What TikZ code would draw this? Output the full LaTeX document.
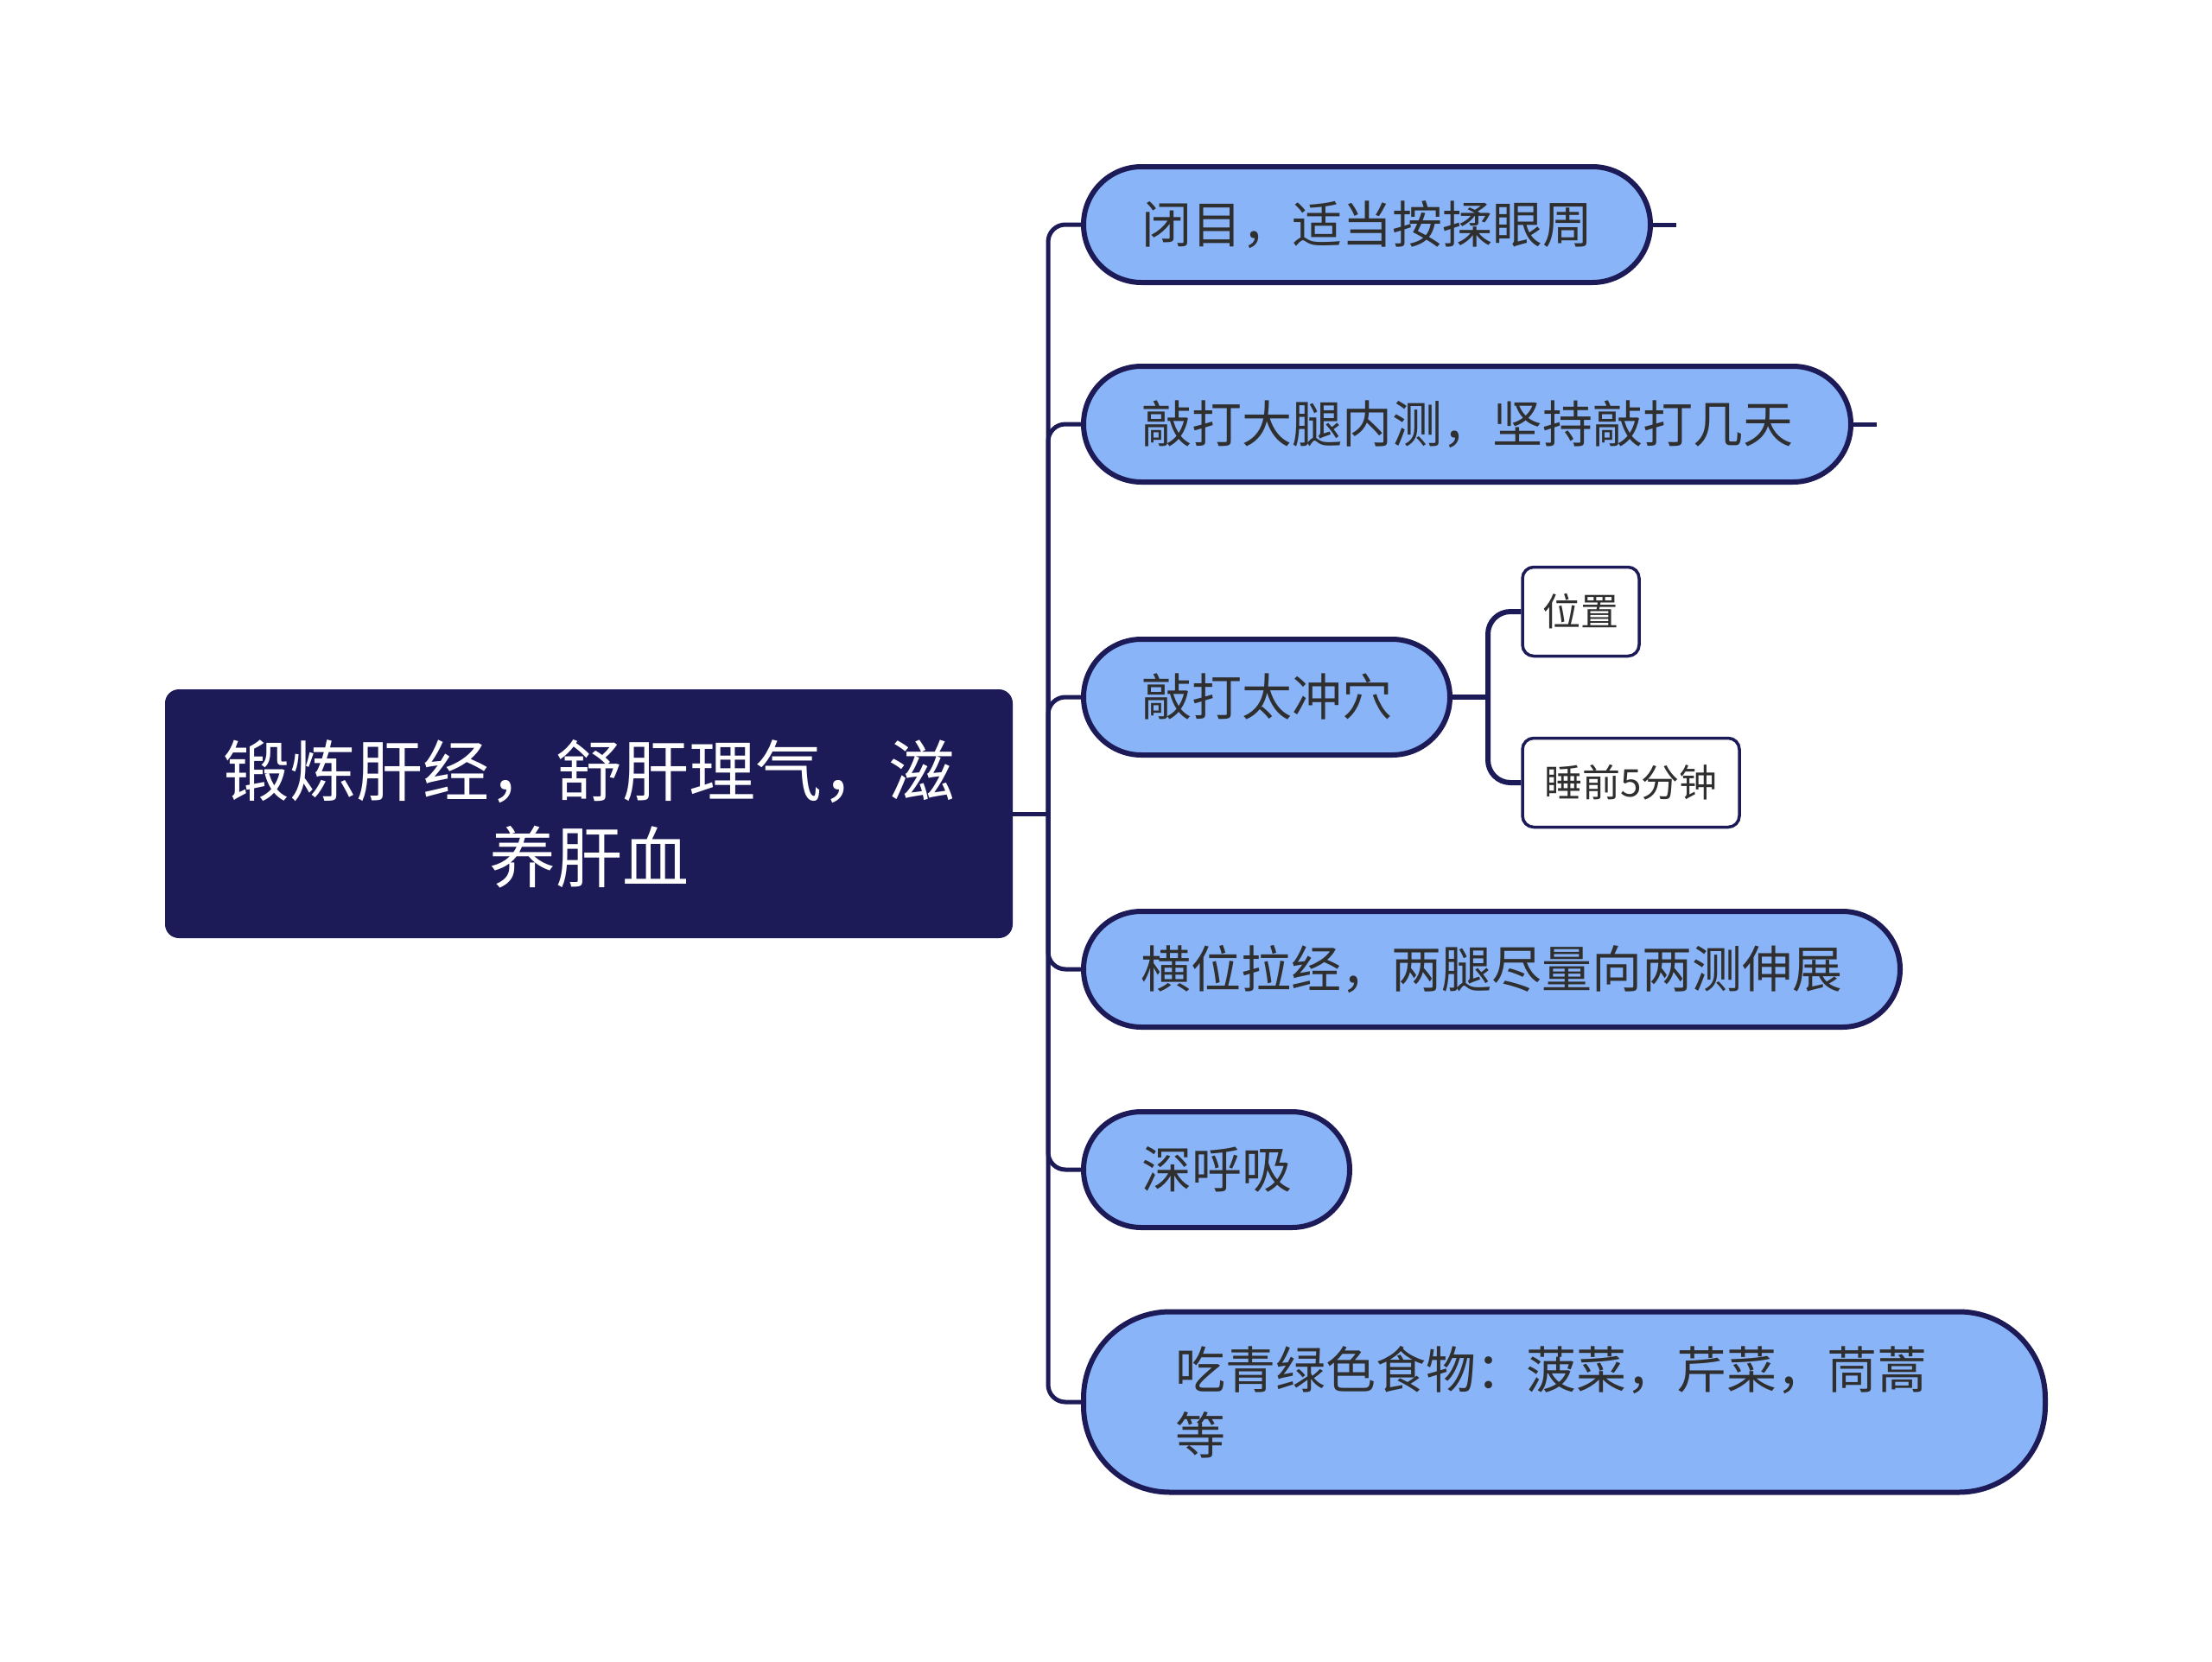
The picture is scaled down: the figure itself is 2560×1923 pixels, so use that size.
\documentclass[tikz,border=0pt]{standalone}
\usepackage{fontspec}
\setmainfont{Noto Sans CJK SC}
\definecolor{navy}{HTML}{1C1A57}
\definecolor{pillblue}{HTML}{8AB4F8}
\definecolor{txt}{HTML}{2F2F2F}
\begin{document}
\begin{tikzpicture}[x=1pt,y=-1pt,
  rootbox/.style={fill=navy, rounded corners=16, text=white,
    font=\fontsize{77}{100}\selectfont, align=center, inner sep=0},
  pillnode/.style={draw=navy, line width=6, fill=pillblue, rounded corners=67,
    text=txt, font=\fontsize{58}{76}\selectfont, inner sep=0, minimum height=134},
  subnode/.style={draw=navy, line width=3.5, fill=white, rounded corners=13,
    text=txt, font=\fontsize{44}{50}\selectfont, inner sep=0, minimum height=103},
  conn/.style={draw=navy, line width=5, rounded corners=20},
  subconn/.style={draw=navy, line width=6, rounded corners=26}]
\useasboundingbox (0,0) rectangle (2560,1923);
\fill[white] (0,0) rectangle (2560,1923);

\node[rootbox, minimum width=981, minimum height=288] (root) at (681.5,942) {锻炼肝经，舒肝理气，滋\\养肝血};

\node[pillnode, minimum width=656] (c1) at (1582,260) {闭目，适当按揉眼周};
\node[pillnode, minimum width=888] (c2) at (1698,491) {敲打大腿内测，坚持敲打几天};
\node[pillnode, minimum width=424] (c3) at (1466,807) {敲打太冲穴};
\node[pillnode, minimum width=945] (c4) at (1726.5,1122) {横位拉经，两腿尽量向两测伸展};
\node[pillnode, minimum width=308] (c5) at (1408,1354) {深呼吸};
\node[pillnode, minimum width=1113, minimum height=209, rounded corners=100,
      text width=900, align=left] (c6) at (1810.5,1623) {吃青绿色食物：菠菜，芹菜，茼蒿\\等};

\node[subnode, minimum width=135] (s1) at (1829.5,708) {位置};
\node[subnode, minimum width=251] (s2) at (1887.5,906) {睡前5分钟};

\coordinate (hub) at (1213,942);
\draw[conn] (root.east) -- (hub);
\foreach \c in {c1,c2,c3,c4,c5,c6} \draw[conn] (hub) |- (\c.west);

\coordinate (hub2) at (1722,807);
\draw[subconn] (c3.east) -- (hub2);
\draw[subconn] (hub2) |- (s1.west);
\draw[subconn] (hub2) |- (s2.west);

\coordinate (t1) at (1940,260);
\coordinate (t2) at (2172,491);
\draw[conn] (c1.east) -- (t1);
\draw[conn] (c2.east) -- (t2);
\end{tikzpicture}
\end{document}
